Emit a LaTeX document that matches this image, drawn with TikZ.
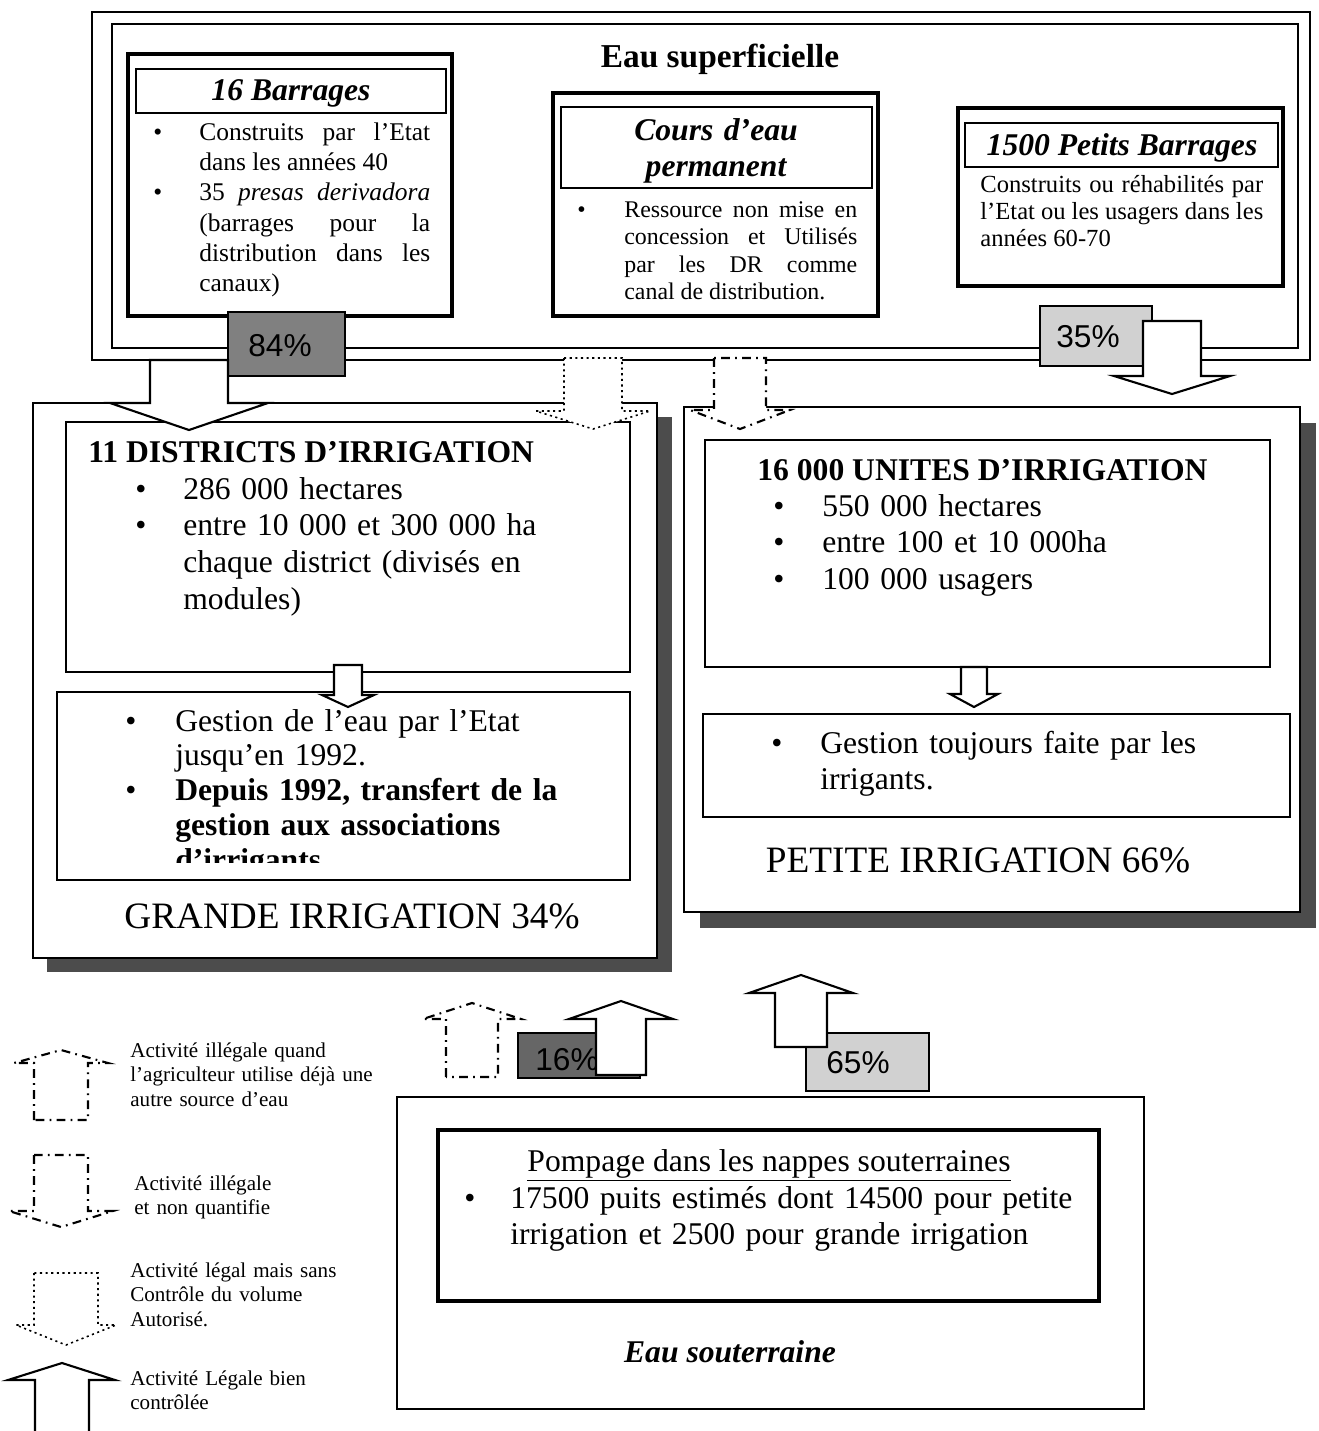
\documentclass[tikz,border=0pt]{standalone}
\usepackage{fontspec}
\setmainfont{Liberation Serif}
\newfontfamily\pctfont{Liberation Sans}
\usepackage{tikz}
\newcommand{\fs}[2]{\fontsize{#1}{#2}\selectfont}
\newcommand{\bitem}[2][0.92cm]{\hangindent=#1\hangafter=1\makebox[#1][l]{\textbullet}#2\par}
\newcommand{\blockarrow}[7][]{%
  \filldraw[blk,#1] (#2-#6,#3) -- (#2-#6,#4) -- (#2-#7,#4) -- (#2,#5)
    -- (#2+#7,#4) -- (#2+#6,#4) -- (#2+#6,#3) -- cycle;}

\begin{document}
\begin{tikzpicture}[x=0.02cm, y=-0.02cm,
  frame/.style={draw, line width=1pt},
  thickbox/.style={draw, line width=1.8pt},
  inbox/.style={draw, line width=1.3pt},
  shade/.style={fill=black!70},
  pct/.style={draw, line width=1pt},
  pcttxt/.style={inner sep=0pt, font=\pctfont\fs{18}{20}},
  blk/.style={fill=white, draw, line width=1.2pt, line join=miter},
  ddot/.style={dash pattern=on 5pt off 3pt on 1pt off 3pt},
  dots/.style={dotted, line width=0.9pt},
  title/.style={inner sep=0pt, anchor=base, font=\bfseries\itshape\fs{18}{21}},
  head/.style={inner sep=0pt, anchor=base west, font=\bfseries\fs{18}{21}},
  big/.style={inner sep=0pt, anchor=base, font=\fs{21.2}{24}},
  body/.style={inner sep=0pt, anchor=base west, align=justify},
  legend/.style={body, align=left, text width=5.2cm, font=\fs{12}{14.2}},
]
\useasboundingbox (0,0) rectangle (1319,1431);

\draw[frame] (92,12) rectangle (1310,360);
\draw[frame] (112,24) rectangle (1298,348);
\node[inner sep=0pt, anchor=base, font=\bfseries\fs{19}{22}] (eausup) at (720,67) {Eau superficielle};

\draw[thickbox] (128,54) rectangle (452,316);
\draw[frame] (136,69) rectangle (446,113);
\node[title] (barr) at (291,100) {16 Barrages};
\node[body, text width=5.54cm, font=\fs{14.5}{17.3}] (barrtxt) at (153,140)
  {\bitem{Construits par l'Etat\linebreak dans les années 40}%
   \bitem{35 \textit{presas derivadora}\linebreak (barrages pour la\linebreak distribution dans les\linebreak canaux)}};

\draw[thickbox] (553,93) rectangle (878,316);
\draw[frame] (561,107) rectangle (872,188);
\node[title, text width=5.6cm, align=center] (cours) at (716,140) {Cours d'eau\\permanent};
\node[body, text width=5.6cm, font=\fs{13.6}{15.7}] (courstxt) at (577,217)
  {\bitem[0.94cm]{Ressource non mise en\linebreak concession et Utilisés\linebreak par les DR comme\linebreak canal de distribution.}};

\draw[thickbox] (958,108) rectangle (1283,286);
\draw[frame] (965,123) rectangle (1278,167);
\node[title] (petbarr) at (1122,155) {1500 Petits Barrages};
\node[body, text width=5.66cm, font=\fs{14}{15.6}] (petbarrtxt) at (980,192)
  {Construits ou réhabilités par\linebreak l'Etat ou les usagers dans les\linebreak années 60-70};

\fill[shade] (47,417) rectangle (672,972);
\draw[frame, fill=white] (33,403) rectangle (657,958);
\draw[inbox] (66,422) rectangle (630,672);
\draw[inbox] (57,692) rectangle (630,880);
\node[head] (dist) at (88,462) {11 DISTRICTS D'IRRIGATION};
\node[body, align=left, text width=9.4cm, font=\fs{18}{21}] (disttxt) at (135,499)
  {\bitem[0.96cm]{286 000 hectares}%
   \bitem[0.96cm]{entre 10 000 et 300 000 ha\newline chaque district (divisés en\newline modules)}};
\begin{scope}
  \clip (57,692) rectangle (630,862);
  \node[body, align=left, text width=9.4cm, font=\fs{18}{19.8}] (gest1) at (125,731)
    {\bitem[1cm]{Gestion de l'eau par l'Etat\newline jusqu'en 1992.}%
     \bitem[1cm]{\textbf{Depuis 1992, transfert de la\newline gestion aux associations\newline d'irrigants}}};
\end{scope}
\node[big] (grande) at (352,928) {GRANDE IRRIGATION 34\%};

\fill[shade] (700,423) rectangle (1316,928);
\draw[frame, fill=white] (684,407) rectangle (1300,912);
\draw[inbox] (705,440) rectangle (1270,667);
\draw[inbox] (703,714) rectangle (1290,817);
\node[head] (unit) at (757,480) {16 000 UNITES D'IRRIGATION};
\node[body, align=left, text width=9.4cm, font=\fs{18}{21}] (unittxt) at (773,516)
  {\bitem[0.98cm]{550 000 hectares}\bitem[0.98cm]{entre 100 et 10 000ha}\bitem[0.98cm]{100 000 usagers}};
\node[body, align=left, text width=9.4cm, font=\fs{18}{21}] (gest2) at (771,753)
  {\bitem[0.98cm]{Gestion toujours faite par les\newline irrigants.}};
\node[big] (petite) at (978,872) {PETITE IRRIGATION 66\%};

\draw[pct, fill=black!50] (228,312) rectangle (345,376);
\node[pcttxt] (p84) at (280,346) {84\%};
\draw[pct, fill=black!18] (1040,306) rectangle (1152,366);
\node[pcttxt] (p35) at (1088,337) {35\%};

\blockarrow{189}{360}{403}{430}{39}{79}
\blockarrow[dots]{593}{358}{411}{429}{29}{57}
\blockarrow[ddot]{740}{358}{410}{429}{26}{50}
\blockarrow{1172}{321}{376}{394}{29}{58}
\blockarrow{348}{665}{695}{707}{14}{26}
\blockarrow{974}{667}{694}{707}{13}{24}

\draw[frame, line width=1.4pt] (397,1097) rectangle (1144,1409);
\draw[thickbox] (438,1130) rectangle (1099,1301);
\node[inner sep=0pt, anchor=base, font=\fs{18}{21}] (pomp) at (769,1171) {\underline{Pompage dans les nappes souterraines}};
\node[body, align=left, text width=12.5cm, font=\fs{18}{21}] (puits) at (464,1208)
  {\bitem[0.92cm]{17500 puits estimés dont 14500 pour petite\newline irrigation et 2500 pour grande irrigation}};
\node[title] (souter) at (730,1362) {Eau souterraine};

\draw[pct, fill=black!60] (518,1033) rectangle (640,1078);
\node[pcttxt] (p16) at (567,1060) {16\%};
\draw[pct, fill=black!18] (806,1033) rectangle (929,1091);
\node[pcttxt] (p65) at (858,1063) {65\%};

\blockarrow[ddot]{472}{1077}{1019}{1003}{26}{49}
\blockarrow{621}{1075}{1019}{1001}{25}{52}
\blockarrow{801}{1047}{993}{975}{26}{52}

\blockarrow[ddot]{61}{1120}{1063}{1050}{27}{47}
\blockarrow[ddot]{61}{1155}{1211}{1227}{27}{52}
\blockarrow[dots]{66}{1273}{1325}{1345}{32}{50}
\draw[blk] (35,1431) -- (35,1380) -- (8,1380) -- (62,1363) -- (115,1380) -- (89,1380) -- (89,1431);
\node[legend] (lg1) at (130,1057) {Activité illégale quand\newline l'agriculteur utilise déjà une\newline autre source d'eau};
\node[legend] (lg2) at (134,1190) {Activité illégale\newline et non quantifie};
\node[legend] (lg3) at (130,1277) {Activité légal mais sans\newline Contrôle du volume\newline Autorisé.};
\node[legend] (lg4) at (130,1385) {Activité Légale bien\newline contrôlée};
\end{tikzpicture}
\end{document}
